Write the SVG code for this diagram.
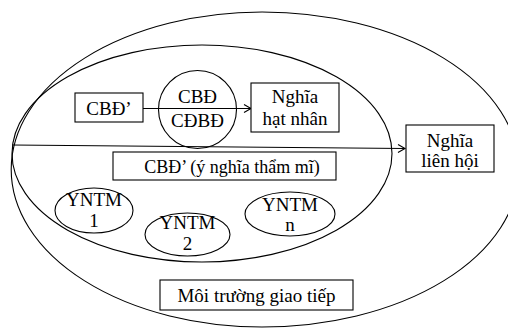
<svg xmlns="http://www.w3.org/2000/svg" width="508" height="328" viewBox="0 0 508 328">
<defs>
<style>
.s{fill:none;stroke:#000;stroke-width:1.1}
.b{fill:#fff;stroke:#000;stroke-width:1.1}
text{font-family:'Liberation Serif','DejaVu Serif',serif;font-size:19px;fill:#000;text-anchor:middle}
</style>
<marker id="ah" markerWidth="10" markerHeight="10" refX="8" refY="5" orient="auto" markerUnits="userSpaceOnUse">
<path d="M1,1 L8,5 L1,9" fill="none" stroke="#000" stroke-width="1.1"/>
</marker>
</defs>
<rect width="508" height="328" fill="#fff"/>
<g id="outer">
<path class="s" d="M262,12 A250,157 0 0 0 262,327 A256,157 0 0 0 262,12 Z"/>
</g>
<g id="inner">
<ellipse class="s" cx="202" cy="153.5" rx="190" ry="108.5"/>
</g>
<g id="connectors">
<line class="s" x1="12" y1="145" x2="405" y2="148.5" marker-end="url(#ah)"/>
<line class="s" x1="143" y1="108.5" x2="251" y2="108.5" marker-end="url(#ah)"/>
</g>
<g font-family="Liberation Serif, DejaVu Serif, serif">
<g id="cbd1">
<rect class="b" x="75" y="93" width="68" height="29"/>
<text x="109" y="115">CBĐ’</text>
</g>
<g id="cbd-circle">
<circle class="s" cx="197.5" cy="109.5" r="39"/>
<text x="197.5" y="103">CBĐ</text>
<text x="197.5" y="126.5">CĐBĐ</text>
</g>
<g id="nghia-hat-nhan">
<rect class="b" x="251" y="83" width="88" height="49"/>
<text x="295" y="103">Nghĩa</text>
<text x="295" y="125">hạt nhân</text>
</g>
<g id="nghia-lien-hoi">
<rect class="b" x="406" y="125" width="88" height="47"/>
<text x="450" y="147">Nghĩa</text>
<text x="450" y="167">liên hội</text>
</g>
<g id="cbd-tham-mi">
<rect class="b" x="113" y="152" width="223" height="28"/>
<text x="232" y="173" font-size="18" style="font-size:18px">CBĐ’ (ý nghĩa thẩm mĩ)</text>
</g>
<g id="yntm1">
<ellipse class="s" cx="94" cy="210.5" rx="39" ry="22.5"/>
<text x="94" y="206">YNTM</text>
<text x="94" y="227">1</text>
</g>
<g id="yntm2">
<ellipse class="s" cx="187.5" cy="234.5" rx="42.5" ry="21.5"/>
<text x="187.5" y="229">YNTM</text>
<text x="187.5" y="250">2</text>
</g>
<g id="yntmn">
<ellipse class="s" cx="290" cy="214" rx="45" ry="22"/>
<text x="290" y="211">YNTM</text>
<text x="290" y="231">n</text>
</g>
<g id="moi-truong">
<rect class="b" x="160" y="280" width="193" height="30"/>
<text x="256.5" y="302">Môi trường giao tiếp</text>
</g>
</g>
</svg>
